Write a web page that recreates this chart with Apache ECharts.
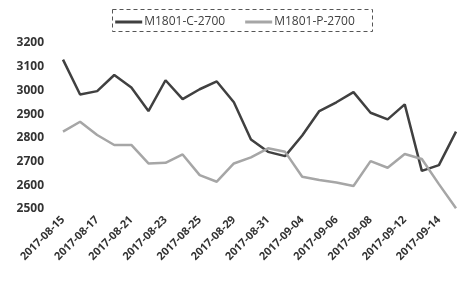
<!DOCTYPE html>
<html>
<head>
<meta charset="utf-8">
<script src="https://cdn.jsdelivr.net/npm/echarts@6/dist/echarts.min.js"></script>
<style>
  html, body { margin: 0; padding: 0; background: #fff; }
  #chart { width: 470px; height: 288px; }
</style>
</head>
<body>
<div id="chart"></div>
<script>
const dates = [
  '2017-08-15', '2017-08-16', '2017-08-17', '2017-08-18', '2017-08-21', '2017-08-22',
  '2017-08-23', '2017-08-24', '2017-08-25', '2017-08-28', '2017-08-29', '2017-08-30',
  '2017-08-31', '2017-09-01', '2017-09-04', '2017-09-05', '2017-09-06', '2017-09-07',
  '2017-09-08', '2017-09-11', '2017-09-12', '2017-09-13', '2017-09-14', '2017-09-15'
];
const callName = 'M1801-C-2700';
const putName = 'M1801-P-2700';
const callValues = [
  3130, 2983, 2997, 3065, 3012, 2913, 3043, 2963, 3005, 3038, 2950, 2793,
  2741, 2723, 2810, 2913, 2950, 2993, 2906, 2878, 2941, 2661, 2685, 2826
];
const putValues = [
  2826, 2868, 2812, 2770, 2770, 2692, 2695, 2730, 2643, 2615, 2692, 2718,
  2756, 2741, 2636, 2622, 2612, 2597, 2702, 2674, 2732, 2711, 2605, 2503
];

const chart = echarts.init(document.getElementById('chart'));

const option = {
  animation: false,
  textStyle: { fontFamily: '"Open Sans", "Noto Sans", sans-serif' },
  graphic: [{
    type: 'rect',
    left: 110, top: 7,
    shape: { width: 260, height: 22 },
    style: { fill: 'none', stroke: '#555', lineWidth: 1, lineDash: [4, 3] },
    z: 0
  }],
  legend: {
    top: 11,
    left: 'center',
    itemGap: 20,
    itemWidth: 27,
    itemHeight: 3,
    icon: 'rect',
    textStyle: { color: '#404040', fontSize: 12, padding: [0, 0, 0, -3] },
    data: [callName, putName]
  },
  grid: { left: 63, right: 14, top: 43, bottom: 79 },
  xAxis: {
    type: 'category',
    boundaryGap: false,
    data: dates,
    axisLine: { show: false },
    axisTick: { show: false },
    axisLabel: {
      interval: 1,
      rotate: 45,
      margin: 9,
      color: '#333',
      fontSize: 11,
      fontWeight: 'bold'
    }
  },
  yAxis: {
    type: 'value',
    min: 2500,
    max: 3200,
    interval: 100,
    axisLine: { show: false },
    axisTick: { show: false },
    splitLine: { show: false },
    axisLabel: {
      margin: 19,
      color: '#333',
      fontSize: 12,
      fontWeight: 'bold',
      formatter: (v) => String(v)
    }
  },
  series: [
    {
      name: callName,
      type: 'line',
      data: callValues,
      showSymbol: false,
      symbol: 'none',
      lineStyle: { color: '#404040', width: 2.5 },
      itemStyle: { color: '#404040' }
    },
    {
      name: putName,
      type: 'line',
      data: putValues,
      showSymbol: false,
      symbol: 'none',
      lineStyle: { color: '#a6a6a6', width: 2.5 },
      itemStyle: { color: '#a6a6a6' }
    }
  ]
};

chart.setOption(option);
</script>
</body>
</html>
